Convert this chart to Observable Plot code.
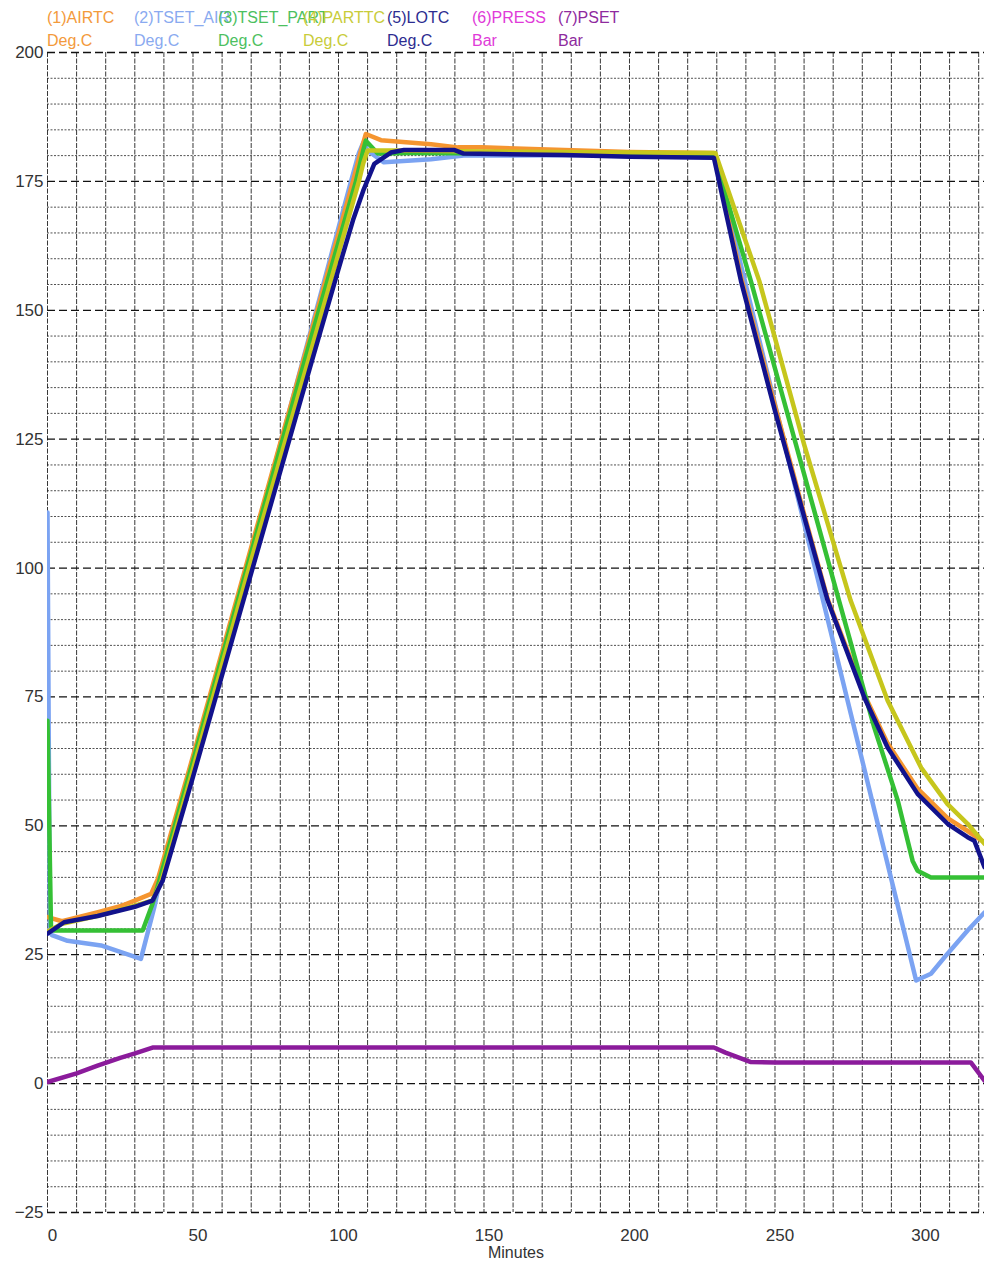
<!DOCTYPE html>
<html>
<head>
<meta charset="utf-8">
<script src="https://cdn.jsdelivr.net/npm/d3@7"></script>
<script src="https://cdn.jsdelivr.net/npm/@observablehq/plot@0.6"></script>
<style>
  html, body { margin: 0; padding: 0; background: #fff; }
  #wrap { position: relative; width: 984px; height: 1268px; font-family: "Liberation Sans", Arial, sans-serif; }
  #legend { position: absolute; left: 0; top: 0; width: 984px; height: 50px; pointer-events: none; z-index: 2; }
  #legend span { position: absolute; font-size: 16px; white-space: nowrap; line-height: 1; }
</style>
</head>
<body>
<div id="wrap">
  <div id="legend"></div>
  <div id="chart"></div>
</div>
<script>
// ---- data (minutes, value) ----
const airtc = [[0,32.3],[5,31.5],[17,33.2],[25,34.4],[30,35.5],[35.6,36.8],[38,39.8],[50,63.5],[70,104],[90,144.5],[105,175],[107.5,180.5],[109.4,184.2],[114.6,183],[131.8,182.2],[141,181.6],[149,181.6],[177.5,181.1],[200,180.7],[229,180.5],[238.3,156.5],[250,131.5],[260,110.5],[268.1,94],[280.7,75.5],[288.7,66],[299,57.2],[309.3,51.5],[316.2,49],[322,46.8]];
const tsetAir = [[0,110.8],[0.8,29.5],[1.5,28.8],[6.9,27.7],[18.4,26.8],[32.1,24.2],[36.7,34.2],[38.5,39],[50,62.5],[70,103],[90,145],[104.3,175],[107,180.5],[108.5,182.5],[110,181],[115.6,178.7],[131.8,179.3],[143,180],[229,180.2],[298.5,20],[303.6,21.3],[309.3,25.2],[316.2,29.7],[322,33.2]];
const tsetPart = [[0,70.4],[1.2,30.5],[2,29.7],[32.7,29.7],[36.1,34.9],[38.5,39.5],[50,62.5],[70,103],[90,143.5],[106,175],[108.5,181],[109.4,182.9],[113.5,180.4],[125,180.5],[229,180.2],[241.7,155.7],[272,93.7],[284.1,69.1],[292.2,54.9],[297.3,43.2],[299,41.3],[303.6,40],[322,40]];
const parttc = [[0,29.5],[5,31],[17,32.5],[30,34.5],[36,35.5],[39,39],[50,61],[70,101.5],[90,141],[107,175],[108.5,178.5],[110,181],[120,181],[150,180.8],[229.5,180.5],[244.6,155.7],[260,124],[276,93.7],[288.7,74.3],[300.2,61.3],[309.3,54.2],[316.2,50.4],[322,46.5]];
const lotc = [[0,29.1],[5.7,31.3],[17.2,32.5],[30,34.3],[36.1,35.5],[39.6,39.4],[50,59.5],[70,99],[90,138.5],[100,158],[105,167.5],[108.5,173.2],[112.3,178.4],[118,180.6],[122.5,181.1],[139.7,181.1],[143,180.4],[177.5,180.1],[200.4,179.8],[229,179.6],[238.3,155.7],[250,130.5],[260,110],[268.1,93.7],[280.7,74.9],[288.7,65.2],[299,56.2],[309.3,50.4],[316.2,47.8],[318.5,47.1],[322,42]];
const press = [];
const pset = [[0,0.3],[10,2],[17.2,3.5],[25,5],[29.8,5.8],[36.1,7],[229,7],[233,6],[241.5,4.2],[250,4.1],[317.3,4.1],[322,0.6]];

const seriesNames = ["(1)AIRTC","(2)TSET_AIR","(3)TSET_PART","(4)PARTTC","(5)LOTC","(6)PRESS","(7)PSET"];
const seriesUnits = ["Deg.C","Deg.C","Deg.C","Deg.C","Deg.C","Bar","Bar"];
const seriesData = [airtc, tsetAir, tsetPart, parttc, lotc, press, pset];
const lineColors = ["#f5952f","#7ba3f2","#35c035","#c6c61c","#12128c","#e030d0","#8b1b9b"];
const textColors = ["#f39a3c","#8aaaf0","#4cc060","#c8cc3a","#2c2c90","#e03ad8","#8e2a9e"];

const xTicks = [0,50,100,150,200,250,300];
const yTicks = [-25,0,25,50,75,100,125,150,175,200];
const xDomain = [0,322];
const yDomain = [-25,200];

// ---- legend ----
const legendX = [47,134,218,303,387,472,558];
const legend = document.getElementById("legend");
seriesNames.forEach((n,i) => {
  const a = document.createElement("span");
  a.textContent = n; a.style.left = legendX[i] + "px"; a.style.top = "10px"; a.style.color = textColors[i];
  legend.appendChild(a);
  const b = document.createElement("span");
  b.textContent = seriesUnits[i]; b.style.left = legendX[i] + "px"; b.style.top = "33px"; b.style.color = textColors[i];
  legend.appendChild(b);
});

// ---- chart ----
const rows = seriesData.map(d => d.map(([t,v]) => ({t, v})));
const minorY = d3.range(yDomain[0], yDomain[1] + 1, 5).filter(v => v % 25 !== 0);
const majorY = d3.range(yDomain[0], yDomain[1] + 1, 25);
const gridX = d3.range(0, 321, 10);

const chart = Plot.plot({
  width: 984, height: 1268,
  marginLeft: 47, marginRight: 0, marginTop: 52, marginBottom: 56,
  style: {fontFamily: "'Liberation Sans', Arial, sans-serif", fontSize: "17px", background: "white", color: "#333"},
  x: {domain: xDomain},
  y: {domain: yDomain},
  marks: [
    Plot.ruleY(minorY, {stroke: "#333", strokeOpacity: 0.85, strokeDasharray: "2,1.5", strokeWidth: 1}),
    Plot.ruleX(gridX, {stroke: "#222", strokeOpacity: 0.9, strokeDasharray: "5,1.5", strokeWidth: 1}),
    Plot.ruleY(majorY, {stroke: "#111", strokeDasharray: "8,4", strokeWidth: 1.3}),
    ...[1,0,2,3,4,5,6].map(i => Plot.line(rows[i], {x: "t", y: "v", stroke: lineColors[i], strokeWidth: 4.5, strokeLinejoin: "round", strokeLinecap: "round", clip: true})),
    Plot.axisX({ticks: xTicks, tickSize: 0, tickPadding: 16, dx: 5, label: null, fontSize: 17, fill: "#333"}),
    Plot.axisY({ticks: yTicks, tickSize: 0, tickPadding: 4, label: null, fontSize: 17, fill: "#333"}),
    Plot.text(["Minutes"], {frameAnchor: "bottom", dy: 45, fontSize: 16, fill: "#333"})
  ]
});
document.getElementById("chart").appendChild(chart);
</script>
</body>
</html>
